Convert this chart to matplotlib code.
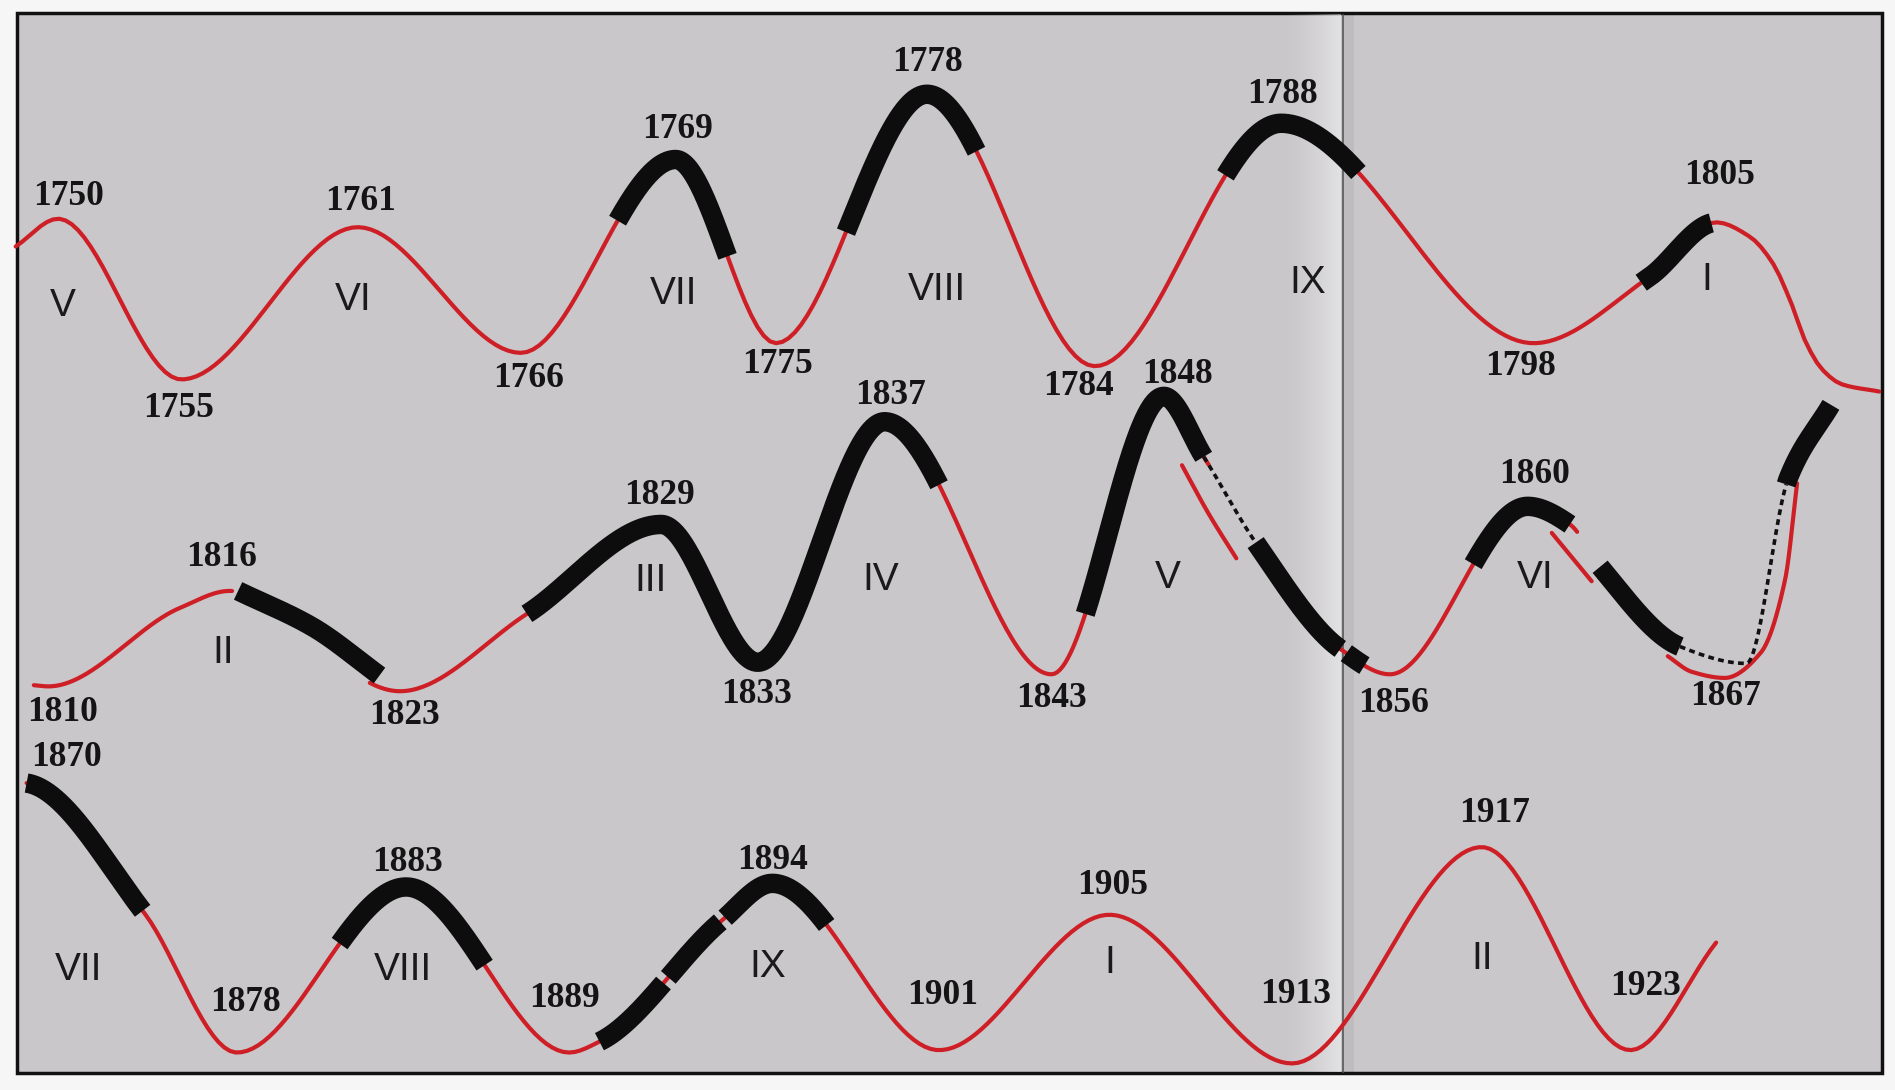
import numpy as np
import matplotlib.pyplot as plt
from matplotlib.patches import Rectangle

# schematic curve: control points (position along the strip, level; y grows downwards)
# row 1 : 1750 - 1810
r1_x = [13, 48, 150, 296, 431, 559, 642, 767, 906, 1060, 1269, 1365, 1420, 1448, 1467, 1481,
        1495, 1508, 1524, 1555]
r1_y = [204, 181, 314, 188, 292, 132, 284, 78, 303, 102, 284, 229, 184, 196, 218, 248,
        285, 306, 318, 324]
r1_black = [(511, 602), (700, 808), (1014, 1124), (1358, 1416)]
r1_years = ["1750", "1755", "1761", "1766", "1769", "1775", "1778", "1784", "1788", "1798", "1805"]
r1_cycles = ["V", "VI", "VII", "VIII", "IX", "I"]

# row 2 : 1810 - 1870
r2_x = [28, 40, 149, 190, 331, 436, 547, 627, 732, 870, 963, 996, 1039, 1109,
        1150, 1264, 1299, 1324, 1390, 1445, 1480, 1515]
r2_y = [567, 568, 503, 489, 572, 508, 434, 548, 349, 558, 328, 378, 449, 537,
        558, 419, 434, 469, 535, 549, 395, 335]
r2_red = [(28, 192), (306, 1000), (1109, 1305)]
r2_black = [(436, 777), (898, 996), (1039, 1109), (1114, 1129),
            (1219, 1299), (1324, 1390), (1478, 1515)]
r2_dashed = [(996, 1039), (1390, 1478)]
# thick stroke after the 1816 maximum (drawn a little apart from the thin line)
k1_x, k1_y = [197, 259, 314], [489, 519, 559]
# red side branches
b1_x, b1_y = [978, 1000, 1023], [385, 425, 462]
b2_x, b2_y = [1284, 1317], [441, 481]
b3_x, b3_y = [1380, 1400, 1427, 1457, 1477, 1487], [543, 556, 561, 540, 480, 400]
r2_years = ["1810", "1816", "1823", "1829", "1833", "1837", "1843", "1848", "1856", "1860", "1867"]
r2_cycles = ["II", "III", "IV", "V", "VI"]

# row 3 : 1870 - 1925
r3_x = [22, 119, 196, 336, 471, 496, 597, 639, 777, 918, 1069, 1226, 1349, 1420]
r3_y = [648, 755, 871, 734, 871, 862, 762, 731, 869, 757, 880, 701, 869, 780]
r3_black = [(22, 118), (281, 401), (496, 549), (553, 596), (600, 684)]
r3_years = ["1870", "1878", "1883", "1889", "1894", "1901", "1905", "1913", "1917", "1923"]
r3_cycles = ["VII", "VIII", "IX", "I", "II"]

# label placement
r1_year_xy = [(57, 163), (148, 338), (298, 167), (437, 313), (561, 107), (643, 302),
              (767, 52), (892, 320), (1061, 78), (1258, 303), (1423, 145)]
r2_year_xy = [(52, 590), (183, 461), (335, 592), (546, 410), (626, 575), (737, 327),
              (870, 578), (974, 310), (1153, 582), (1270, 393), (1428, 576)]
r3_year_xy = [(55, 627), (203, 830), (337, 714), (467, 826), (639, 712), (780, 824),
              (921, 733), (1072, 823), (1237, 673), (1362, 816)]
r1_cycle_xy = [(52, 253), (292, 248), (557, 243), (775, 240), (1082, 234), (1412, 232)]
r2_cycle_xy = [(185, 540), (538, 481), (729, 480), (966, 478), (1270, 478)]
r3_cycle_xy = [(65, 803), (333, 803), (635, 800), (918, 797), (1226, 794)]

RED = "#cf1f26"
BG = "#c9c7ca"


def pchip(xk, yk, x, m_start=None):
    xk = np.asarray(xk, float)
    yk = np.asarray(yk, float)
    h = np.diff(xk)
    d = np.diff(yk) / h
    m = np.zeros_like(yk)
    for k in range(1, len(xk) - 1):
        if d[k - 1] * d[k] > 0:
            w1 = 2 * h[k] + h[k - 1]
            w2 = h[k] + 2 * h[k - 1]
            m[k] = (w1 + w2) / (w1 / d[k - 1] + w2 / d[k])
    m[0] = d[0] if m_start is None else m_start
    m[-1] = d[-1]
    i = np.clip(np.searchsorted(xk, x) - 1, 0, len(h) - 1)
    t = (x - xk[i]) / h[i]
    h00 = 2 * t**3 - 3 * t**2 + 1
    h10 = t**3 - 2 * t**2 + t
    h01 = -2 * t**3 + 3 * t**2
    h11 = t**3 - t**2
    return h00 * yk[i] + h10 * h[i] * m[i] + h01 * yk[i + 1] + h11 * h[i] * m[i + 1]


def piece(ax, xk, yk, x0, x1, m_start=None, **kw):
    x = np.linspace(x0, x1, 300)
    ax.plot(x, pchip(xk, yk, x, m_start), **kw)


fig = plt.figure(figsize=(18.95, 10.90), dpi=100, facecolor="#f6f6f6")
ax = fig.add_axes([0, 0, 1, 1])
ax.axis("off")

ax.add_patch(Rectangle((14, 11), 1543, 877, facecolor=BG, edgecolor="#111111", lw=2.5, zorder=0))
# page fold
ramp = np.zeros((1, 60, 4))
ramp[..., :3] = 1.0
ramp[0, :, 3] = np.linspace(0, 0.6, 60) ** 1.5
ax.imshow(ramp, extent=(1060, 1109, 887, 12), aspect="auto", zorder=1)
ax.plot([1111, 1111], [12, 887], color="#555555", lw=1.2, zorder=1)
ax.add_patch(Rectangle((1112, 12), 8, 875, facecolor="black", alpha=0.05, lw=0, zorder=1))

red_kw = dict(color=RED, lw=3.0, solid_capstyle="round", zorder=3)
blk_kw = dict(color="#0d0d0d", lw=14, solid_capstyle="butt", zorder=4)
dash_kw = dict(color="#111111", lw=2.6, ls=(0, (1.6, 1.2)), zorder=4)

# row 1
piece(ax, r1_x, r1_y, r1_x[0], r1_x[-1], **red_kw)
for a, b in r1_black:
    piece(ax, r1_x, r1_y, a, b, **blk_kw)

# row 2
for a, b in r2_red:
    piece(ax, r2_x, r2_y, a, b, **red_kw)
for bx, by in [(b1_x, b1_y), (b2_x, b2_y), (b3_x, b3_y)]:
    piece(ax, bx, by, bx[0], bx[-1], **red_kw)
piece(ax, k1_x, k1_y, k1_x[0], k1_x[-1], **blk_kw)
for a, b in r2_black:
    piece(ax, r2_x, r2_y, a, b, **blk_kw)
for a, b in r2_dashed:
    piece(ax, r2_x, r2_y, a, b, **dash_kw)

# row 3
piece(ax, r3_x, r3_y, r3_x[0], r3_x[-1], m_start=0.15, **red_kw)
for a, b in r3_black:
    piece(ax, r3_x, r3_y, a, b, m_start=0.15, **blk_kw)

year_font = dict(family="Liberation Serif", weight="bold", fontsize=25.5, color="#141414",
                 ha="center", va="center", zorder=5)
cyc_font = dict(family=["Liberation Sans Narrow", "Liberation Sans"], fontsize=28,
                color="#1a1a1a", ha="center", va="center", zorder=5)
for years, xy in [(r1_years, r1_year_xy), (r2_years, r2_year_xy), (r3_years, r3_year_xy)]:
    for s, (x, y) in zip(years, xy):
        ax.text(x, y, s, **year_font)
for cyc, xy in [(r1_cycles, r1_cycle_xy), (r2_cycles, r2_cycle_xy), (r3_cycles, r3_cycle_xy)]:
    for s, (x, y) in zip(cyc, xy):
        ax.text(x, y, s, **cyc_font)

ax.set_xlim(0, 1568)
ax.set_ylim(902, 0)
fig.savefig("out.png", dpi=100, facecolor=fig.get_facecolor())
